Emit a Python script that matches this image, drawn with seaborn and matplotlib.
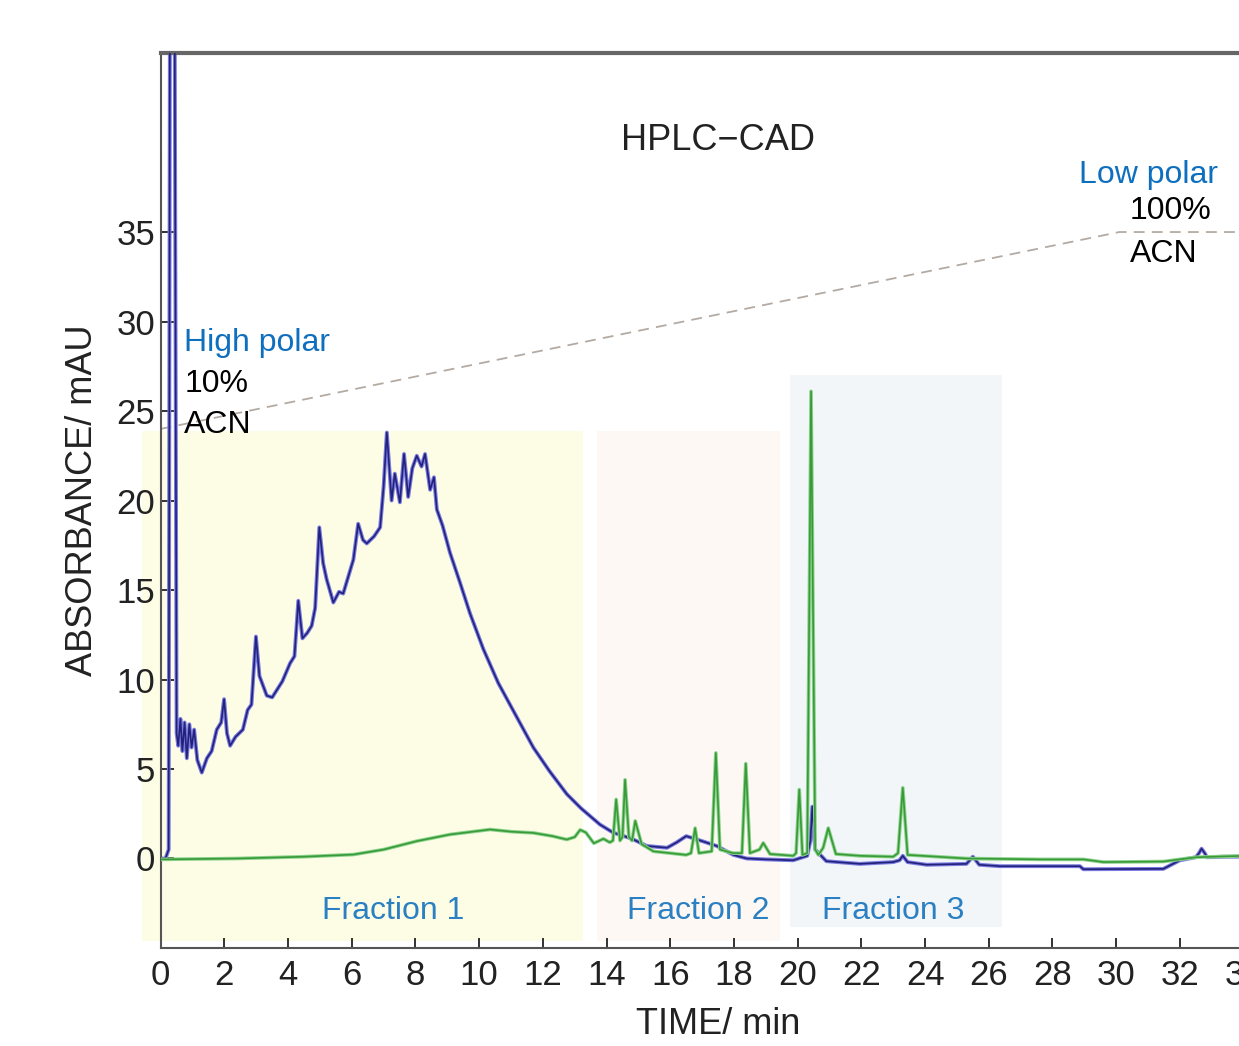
import matplotlib
matplotlib.use("Agg")
import matplotlib.pyplot as plt
from matplotlib.patches import Rectangle
import seaborn as sns

# blue trace (absorbance)
blue_t = [0, 0.15, 0.25, 0.3, 0.42, 0.5, 0.55, 0.62, 0.68, 0.75, 0.82, 0.9, 0.97, 1.05, 1.15,
          1.29, 1.45, 1.6, 1.76, 1.9, 1.99, 2.08, 2.18, 2.35, 2.58, 2.73, 2.85, 2.99, 3.1, 3.33,
          3.5, 3.82, 4.06, 4.2, 4.32, 4.45, 4.6, 4.74, 4.85, 4.98, 5.1, 5.21, 5.42, 5.6, 5.73,
          6.05, 6.2, 6.35, 6.47, 6.7, 6.89, 7.0, 7.1, 7.25, 7.35, 7.51, 7.64, 7.77, 7.9, 8.04,
          8.19, 8.3, 8.46, 8.58, 8.67, 8.85, 9.08, 9.4, 9.71, 10.13, 10.6, 11.18, 11.7, 12.2,
          12.75, 13.2, 13.79, 14.2, 14.8, 15.26, 15.9, 16.2, 16.5, 16.95, 17.46, 17.98, 18.4,
          19.0, 19.86, 20.3, 20.4, 20.46, 20.55, 20.9, 21.95, 23.0, 23.2, 23.3, 23.45, 24.05,
          25.3, 25.5, 25.7, 26.35, 28.86, 28.97, 31.48, 32.0, 32.5, 32.6, 32.68, 32.78, 32.85,
          33.4, 35]
blue_abs = [0, 0, 0.5, 60, 60, 7.0, 6.3, 7.8, 6.0, 7.6, 5.6, 7.5, 6.2, 7.2, 5.5,
            4.8, 5.6, 6.0, 7.2, 7.6, 8.9, 7.0, 6.3, 6.8, 7.2, 8.3, 8.6, 12.4, 10.2, 9.1,
            9.0, 9.9, 10.9, 11.3, 14.4, 12.3, 12.6, 13.0, 14.0, 18.5, 16.5, 15.6, 14.3, 14.9, 14.8,
            16.7, 18.7, 17.8, 17.6, 18.0, 18.5, 20.8, 23.8, 20.0, 21.5, 19.9, 22.6, 20.2, 21.8, 22.5,
            21.9, 22.6, 20.6, 21.3, 19.5, 18.6, 17.1, 15.4, 13.7, 11.7, 9.8, 7.9, 6.2, 4.9,
            3.6, 2.8, 1.9, 1.45, 1.1, 0.7, 0.6, 0.9, 1.25, 1.0, 0.7, 0.2, 0.0,
            -0.05, -0.1, 0.15, 1.0, 2.9, 0.5, -0.15, -0.3, -0.2, -0.1, 0.15, -0.2, -0.35,
            -0.3, 0.1, -0.35, -0.43, -0.43, -0.6, -0.58, -0.1, 0.07, 0.3, 0.55, 0.3, 0.07,
            0.1, 0.1]

# green trace (CAD)
green_t = [0, 2.4, 4.5, 6.05, 7.0, 8.04, 9.08, 10.34, 11.0, 11.7, 12.3, 12.75, 13.0, 13.17,
           13.35, 13.6, 13.9, 14.1, 14.2, 14.3, 14.42, 14.5, 14.58, 14.7, 14.8, 14.9, 15.1,
           15.47, 16.5, 16.65, 16.78, 16.9, 17.3, 17.43, 17.56, 17.97, 18.25, 18.37, 18.5,
           18.8, 18.92, 19.13, 19.86, 19.95, 20.05, 20.15, 20.3, 20.42, 20.55, 20.65, 20.8,
           20.96, 21.2, 21.95, 23.0, 23.15, 23.3, 23.45, 25.3, 27.6, 28.97, 29.6, 31.48,
           32.5, 35]
green_abs = [-0.05, 0, 0.1, 0.22, 0.5, 0.97, 1.34, 1.62, 1.5, 1.43, 1.25, 1.06, 1.2, 1.6,
             1.45, 0.85, 1.1, 0.9, 1.0, 3.3, 1.0, 1.2, 4.4, 1.2, 1.0, 2.1, 0.8,
             0.4, 0.2, 0.3, 1.7, 0.3, 0.4, 5.9, 0.5, 0.3, 0.3, 5.3, 0.3,
             0.5, 0.87, 0.25, 0.15, 0.3, 3.85, 0.2, 0.3, 26.1, 0.5, 0.2, 0.6,
             1.7, 0.25, 0.15, 0.1, 0.3, 3.95, 0.2, 0.0, -0.05, -0.05, -0.2, -0.17,
             0.07, 0.2]

# ACN gradient (%-line drawn in absorbance units)
grad_t = [0, 30.1, 36]
grad_y = [24, 35, 35]

fractions = ["Fraction 1", "Fraction 2", "Fraction 3"]
frac_start = [-0.6, 13.69, 19.76]
frac_end = [13.26, 19.44, 26.4]
frac_top = [23.9, 23.9, 27.0]
frac_bottom = [-4.6, -4.6, -3.8]
frac_colors = ["#fdfde6", "#fdf8f4", "#f2f6f9"]
frac_label_x = [7.3, 16.87, 23.0]

sns.set_style("ticks")
plt.rcParams['font.family'] = ['Liberation Sans', 'DejaVu Sans']

fig = plt.figure(figsize=(12.39, 10.46), dpi=100)
ax = fig.add_axes([0.1297, 0.0937, 0.8997, 0.8556])

for name, s, e, t, b, c, lx in zip(fractions, frac_start, frac_end, frac_top, frac_bottom,
                                   frac_colors, frac_label_x):
    ax.add_patch(Rectangle((s, b), e - s, t - b, facecolor=c, edgecolor="none",
                           zorder=0, clip_on=False))
    ax.text(lx, -2.95, name, color="#2a80c2", fontsize=23, ha="center", va="center")

ax.plot(grad_t, grad_y, color="#b3aba3", lw=1.3, dashes=(6, 4), zorder=1)

sns.lineplot(x=blue_t, y=blue_abs, ax=ax, color="#7a7ae0", lw=2.8, zorder=2)
sns.lineplot(x=blue_t, y=blue_abs, ax=ax, color="#22227a", lw=1.2, zorder=3)
sns.lineplot(x=green_t, y=green_abs, ax=ax, color="#8cd48c", lw=2.6, zorder=4)
sns.lineplot(x=green_t, y=green_abs, ax=ax, color="#3a9a3a", lw=1.2, zorder=5)

ax.set_xlim(0, 35)
ax.set_ylim(-5, 45)
ax.set_xticks(range(0, 35, 2))
ax.set_yticks(range(0, 40, 5))
ax.tick_params(axis="both", direction="in", labelsize=25, colors="#222222")
ax.tick_params(axis="y", length=9, width=1.3, pad=4)
ax.tick_params(axis="x", length=7, width=1.3, pad=8)

for side in ["left", "bottom"]:
    ax.spines[side].set_color("#555555")
    ax.spines[side].set_linewidth(1.5)
ax.spines["top"].set_color("#666666")
ax.spines["top"].set_linewidth(3)
ax.spines["right"].set_visible(False)

ax.set_xlabel("TIME/ min", fontsize=26, color="#222222", labelpad=11)
ax.set_ylabel("ABSORBANCE/ mAU", fontsize=26, color="#222222", labelpad=12)

ax.text(17.5, 40.1, "HPLC\u2212CAD", fontsize=26, ha="center", va="center", color="#222222")
ax.text(0.74, 28.8, "High polar", fontsize=23, color="#0f6fbf", va="center")
ax.text(0.74, 26.5, "10%", fontsize=23, color="black", va="center")
ax.text(0.74, 24.2, "ACN", fontsize=23, color="black", va="center")
ax.text(31.0, 38.2, "Low polar", fontsize=23, color="#0f6fbf", va="center", ha="center")
ax.text(31.7, 36.2, "100%", fontsize=23, color="black", va="center", ha="center")
ax.text(31.5, 33.8, "ACN", fontsize=23, color="black", va="center", ha="center")

fig.savefig("out.png", dpi=100)
